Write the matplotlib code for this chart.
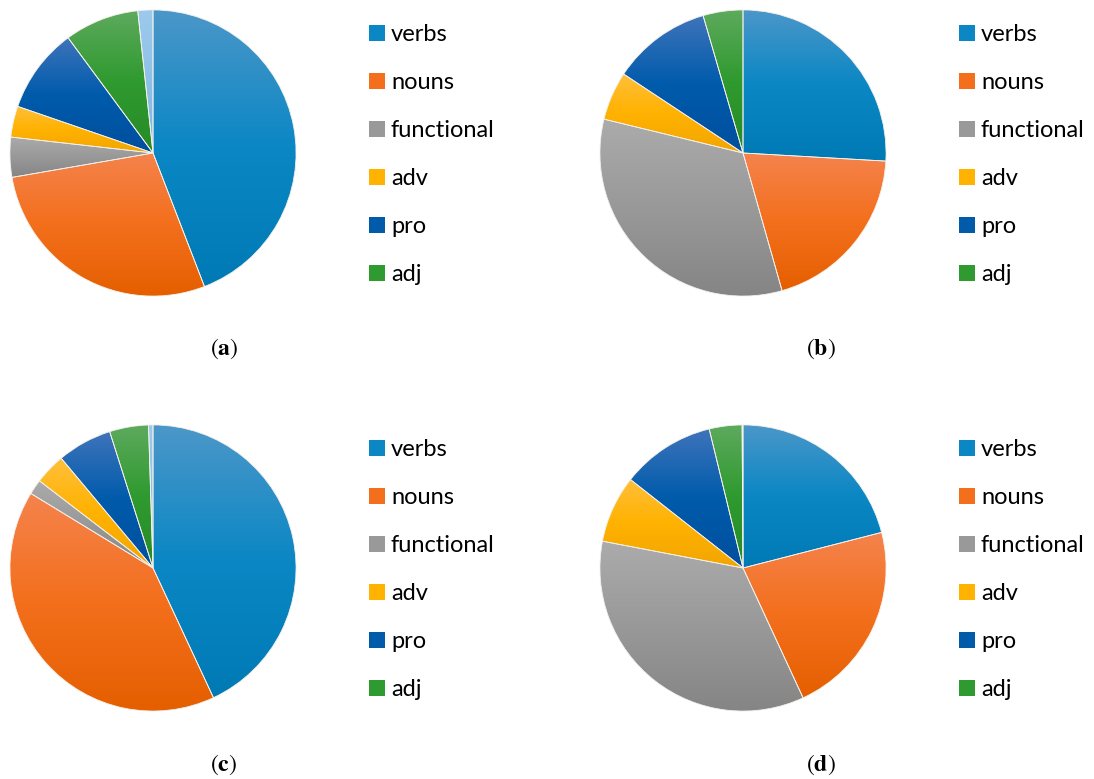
import numpy as np
import matplotlib
matplotlib.use("Agg")
import matplotlib.pyplot as plt
from matplotlib.colors import LinearSegmentedColormap
from matplotlib.patches import Patch

# shares (percent), clockwise from 12 o'clock
labels = ["verbs", "nouns", "functional", "adv", "pro", "adj"]
share_a = [44.1, 28.1, 4.5, 3.5, 9.6, 8.4, 1.7]
share_b = [25.9, 19.7, 33.2, 5.5, 11.2, 4.5]
share_c = [43.1, 40.7, 1.7, 3.5, 6.2, 4.4, 0.5]
share_d = [21.0, 22.1, 34.9, 7.6, 10.6, 3.7, 0.1]
panels = ["a", "b", "c", "d"]

# (top, base, bottom) gradient colours per category
grad = [
    ("#4c97c9", "#0a87c4", "#007ab5"),
    ("#f5834d", "#f36f1c", "#e55f00"),
    ("#ababab", "#999999", "#858585"),
    ("#ffbf3a", "#ffb200", "#f2a500"),
    ("#3f74bb", "#005bab", "#004f9e"),
    ("#5eaa5e", "#2f9a2f", "#278b27"),
    ("#9ccaec", "#8ec1e8", "#7fb5df"),
]

W, H = 1094, 779
fig = plt.figure(figsize=(W / 100, H / 100), dpi=100)
plt.rcParams["mathtext.fontset"] = "stix"

centers = [(153, 153), (743, 153), (153, 568), (743, 568)]
R = 143.5
legend_x = [369, 959, 369, 959]
legend_top = [24, 24, 439, 439]
caption_pos = [(224, 349), (821, 349), (224, 765), (821, 765)]

for k, vals in enumerate([share_a, share_b, share_c, share_d]):
    cx, cy = centers[k]
    ax = fig.add_axes([(cx - R) / W, (H - cy - R) / H, 2 * R / W, 2 * R / H])
    wedges, _ = ax.pie(vals, colors=[g[1] for g in grad[:len(vals)]],
                       startangle=90, counterclock=False, radius=1,
                       wedgeprops=dict(linewidth=0.6, edgecolor="#f4f0ea"))
    for w, g in zip(wedges, grad):
        ext = w.get_path().get_extents()
        cmap = LinearSegmentedColormap.from_list("g", list(g))
        im = ax.imshow(np.linspace(0, 1, 256).reshape(-1, 1), cmap=cmap,
                       extent=(ext.x0, ext.x1, ext.y0, ext.y1), origin="upper",
                       aspect="auto", interpolation="bilinear", zorder=1)
        im.set_clip_path(w)
        w.set_facecolor("none")
        w.set_zorder(3)
    ax.set_xlim(-1.003, 1.003)
    ax.set_ylim(-1.003, 1.003)
    ax.set_aspect("auto")
    ax.axis("off")

    handles = [Patch(facecolor=g[1], edgecolor="none") for g in grad[:6]]
    ax.legend(handles, labels, loc="upper left",
              bbox_to_anchor=(legend_x[k] / W, 1 - legend_top[k] / H),
              bbox_transform=fig.transFigure, frameon=False,
              prop=dict(family="Lato", size=17), borderpad=0, borderaxespad=0,
              handlelength=0.68, handleheight=0.68, handletextpad=0.25,
              labelspacing=1.145)

    tx, ty = caption_pos[k]
    fig.text(tx / W, 1 - ty / H, r"($\mathbf{%s}$)" % panels[k], ha="center",
             va="center", fontsize=17, family="STIXGeneral")

fig.savefig("out.png", dpi=100)
